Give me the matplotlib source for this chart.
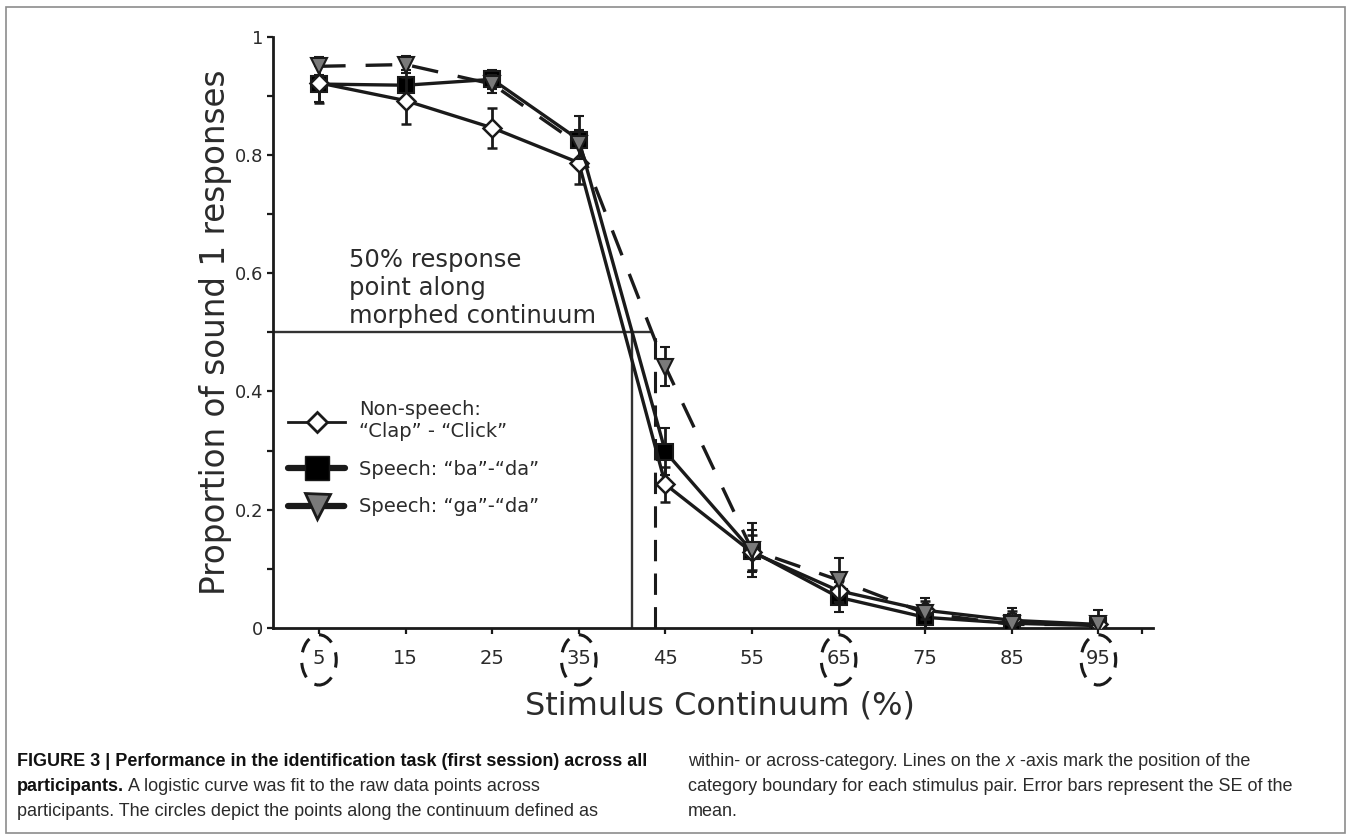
#identification curves for the three continua, with SE bars and category boundaries

import matplotlib.pyplot as plt
from matplotlib.lines import Line2D
from matplotlib.patches import Ellipse, Rectangle


#stimulus steps along the morphed continuum
stimulus = [5, 15, 25, 35, 45, 55, 65, 75, 85, 95]
tick_labels = ["5", "15", "25", "35", "45", "55", "65", "75", "85", "95"]
circled = [5, 35, 65, 95]

#proportion of sound 1 responses and SE
nonspeech = [0.922, 0.892, 0.846, 0.787, 0.243, 0.128, 0.063, 0.030, 0.013, 0.006]
nonspeech_se = [0.034, 0.040, 0.034, 0.036, 0.030, 0.030, 0.020, 0.015, 0.015, 0.012]

ba_da = [0.920, 0.918, 0.928, 0.826, 0.298, 0.130, 0.052, 0.018, 0.008, 0.004]
ba_da_se = [0.030, 0.025, 0.016, 0.040, 0.040, 0.035, 0.025, 0.020, 0.015, 0.012]

ga_da = [0.950, 0.953, 0.920, 0.818, 0.442, 0.132, 0.081, 0.025, 0.006, 0.006]
ga_da_se = [0.015, 0.015, 0.015, 0.025, 0.033, 0.045, 0.037, 0.025, 0.028, 0.025]

#50% points
half_point = 0.5
boundary_solid = 41.2
boundary_dashed = 43.8

legend_labels = ["Non-speech:\n\u201cClap\u201d - \u201cClick\u201d",
                 "Speech: \u201cba\u201d-\u201cda\u201d",
                 "Speech: \u201cga\u201d-\u201cda\u201d"]

ink = "#1a1a1a"
txt = "#2b2b2b"


def createGraph():

    fig = plt.figure(figsize=(13.49, 8.39), dpi=100)
    ax = fig.add_axes([0.2024, 0.2515, 0.6523, 0.7047])

    #50% response guide lines
    ax.plot([-0.3, boundary_dashed - 0.5], [half_point, half_point], color="#333333", lw=1.7, zorder=1)
    ax.plot([boundary_solid, boundary_solid], [0, half_point], color="#333333", lw=1.7, zorder=1)
    ax.plot([boundary_dashed, boundary_dashed], [0, half_point], color=ink, lw=2.2,
            ls=(0, (7, 4)), zorder=1)

    #data series
    ax.errorbar(stimulus, ba_da, yerr=ba_da_se, color=ink, lw=2.4, marker="s", ms=12,
                mfc="black", mec=ink, mew=1.5, elinewidth=2, capsize=3.6, capthick=2.2, zorder=3)
    ax.errorbar(stimulus, nonspeech, yerr=nonspeech_se, color=ink, lw=2.4, marker="D", ms=9,
                mfc="white", mec=ink, mew=1.8, elinewidth=2, capsize=3.6, capthick=2.2, zorder=4)
    ax.errorbar(stimulus, ga_da, yerr=ga_da_se, color=ink, lw=2.4, ls=(0, (8, 6)), marker="v", ms=11,
                mfc="#7a7a7a", mec=ink, mew=1.5, elinewidth=2, capsize=3.6, capthick=2.2, zorder=5)

    ax.text(8.5, 0.508, "50% response\npoint along\nmorphed continuum", fontsize=17.5,
            color=txt, va="bottom", ha="left", linespacing=1.2)

    #legend
    handles = [
        Line2D([], [], color=ink, lw=2, marker="D", ms=10, mfc="white", mec=ink, mew=2),
        Line2D([], [], color=ink, lw=4.5, marker="s", ms=17, mfc="black", mec=ink,
               solid_capstyle="round"),
        Line2D([], [], color=ink, lw=4.5, ls=(0, (3.5, 2)), marker="v", ms=18, mfc="#7a7a7a",
               mec=ink, mew=2, dash_capstyle="round"),
    ]
    leg = ax.legend(handles, legend_labels, loc="upper left", bbox_to_anchor=(0.017, 0.385),
                    frameon=False, fontsize=14, borderpad=0, borderaxespad=0, handlelength=2.95,
                    handletextpad=0.7, labelspacing=0.95)
    for t in leg.get_texts():
        t.set_color(txt)

    #axes
    ax.set_xlim(-0.3, 101.3)
    ax.set_ylim(0, 1)
    ax.spines["top"].set_visible(False)
    ax.spines["right"].set_visible(False)
    ax.spines["left"].set_linewidth(2)
    ax.spines["bottom"].set_linewidth(2)
    ax.spines["left"].set_color(ink)
    ax.spines["bottom"].set_color(ink)

    ax.set_xticks(stimulus + [100])
    ax.set_xticklabels(tick_labels + [""])
    ax.set_yticks([0, 0.2, 0.4, 0.6, 0.8, 1])
    ax.set_yticklabels(["0", "0.2", "0.4", "0.6", "0.8", "1"])
    ax.set_yticks([0.1, 0.3, 0.5, 0.7, 0.9], minor=True)
    ax.tick_params(axis="x", length=4, width=1.6, color=ink, labelsize=14, labelcolor=txt, pad=11)
    ax.tick_params(axis="y", which="both", length=4, width=1.6, color=ink, labelsize=13,
                   labelcolor=txt, pad=3)

    #dashed circles round the within/across category steps
    for c in circled:
        ax.add_patch(Ellipse((c, -0.054), width=4.0, height=0.085, fill=False, ec=ink, lw=2.2,
                             ls=(0, (5, 3.5)), clip_on=False))

    ax.set_xlabel("Stimulus Continuum (%)", fontsize=23, color=txt)
    ax.xaxis.set_label_coords(0.508, -0.106)
    ax.set_ylabel("Proportion of sound 1 responses", fontsize=23.5, color=txt)
    ax.yaxis.set_label_coords(-0.047, 0.5)

    #frame round the whole figure
    fig.patches.append(Rectangle((0.0045, 0.007), 0.9925, 0.9845, transform=fig.transFigure,
                                 fill=False, ec="#8c8c8c", lw=1.2))

    #caption
    fs = 13
    cap = dict(fontsize=fs, family=["Liberation Sans"], va="baseline")
    fig.text(0.0126, 0.087, "FIGURE 3 | Performance in the identification task (first session) across all",
             weight="bold", color="#111111", **cap)
    b = fig.text(0.0126, 0.057, "participants.", weight="bold", color="#111111", **cap)
    ax.annotate(" A logistic curve was fit to the raw data points across", xy=(1, 0), xycoords=b,
                color=txt, annotation_clip=False, fontsize=fs, family=["Liberation Sans"], va="bottom")
    fig.text(0.0126, 0.027, "participants. The circles depict the points along the continuum defined as",
             color=txt, **cap)

    r = fig.text(0.51, 0.087, "within- or across-category. Lines on the ", color=txt, **cap)
    xi = ax.annotate("x", xy=(1, 0), xycoords=r, color=txt, style="italic", annotation_clip=False,
                     fontsize=fs, family=["Liberation Sans"], va="bottom")
    ax.annotate(" -axis mark the position of the", xy=(1, 0), xycoords=xi, color=txt,
                annotation_clip=False, fontsize=fs, family=["Liberation Sans"], va="bottom")
    fig.text(0.51, 0.057, "category boundary for each stimulus pair. Error bars represent the SE of the",
             color=txt, **cap)
    fig.text(0.51, 0.027, "mean.", color=txt, **cap)

    fig.savefig("out.png", dpi=100)


createGraph()
